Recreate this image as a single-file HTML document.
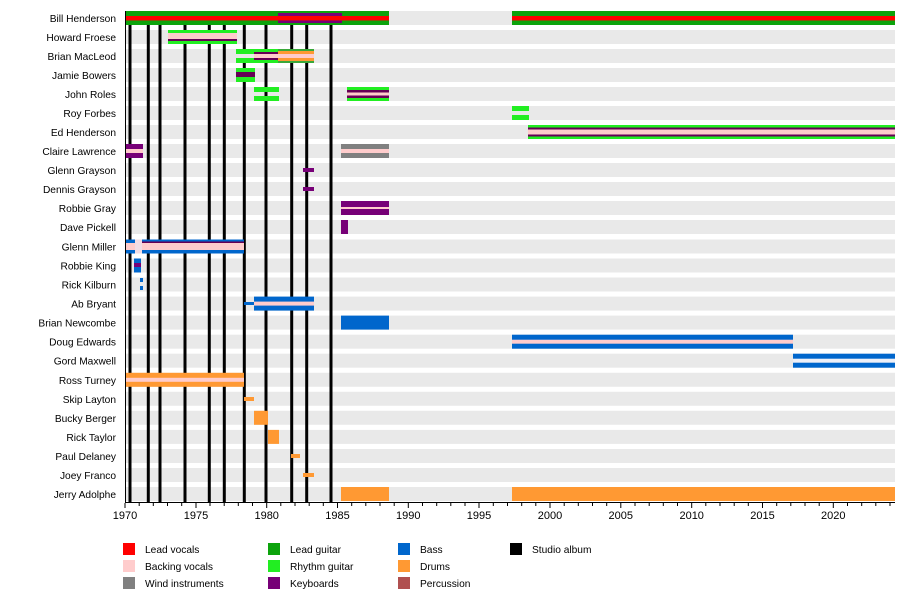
<!DOCTYPE html>
<html><head><meta charset="utf-8"><style>body{margin:0;background:#fff}svg{display:block}text{font-family:"Liberation Sans",Arial,sans-serif;font-size:11px;fill:#000}.lb text{font-size:10.2px}</style></head><body>
<svg width="900" height="600" xmlns="http://www.w3.org/2000/svg">
<g fill="#e9e9e9">
<rect x="125" y="11" width="770" height="14"/><rect x="125" y="30" width="770" height="14"/><rect x="125" y="49" width="770" height="14"/><rect x="125" y="68" width="770" height="14"/><rect x="125" y="87" width="770" height="14"/><rect x="125" y="106" width="770" height="14"/><rect x="125" y="125" width="770" height="14"/><rect x="125" y="144" width="770" height="14"/><rect x="125" y="163" width="770" height="14"/><rect x="125" y="182" width="770" height="14"/><rect x="125" y="201" width="770" height="14"/><rect x="125" y="220" width="770" height="14"/><rect x="125" y="239.5" width="770" height="14"/><rect x="125" y="258.5" width="770" height="14"/><rect x="125" y="277.5" width="770" height="14"/><rect x="125" y="296.6" width="770" height="14"/><rect x="125" y="315.6" width="770" height="14"/><rect x="125" y="334.7" width="770" height="14"/><rect x="125" y="353.7" width="770" height="14"/><rect x="125" y="372.8" width="770" height="14"/><rect x="125" y="391.8" width="770" height="14"/><rect x="125" y="410.8" width="770" height="14"/><rect x="125" y="429.9" width="770" height="14"/><rect x="125" y="449" width="770" height="14"/><rect x="125" y="468" width="770" height="14"/><rect x="125" y="487" width="770" height="14"/>
</g>
<g stroke="#000" stroke-width="3">
<line x1="130" y1="11" x2="130" y2="502"/><line x1="148.3" y1="11" x2="148.3" y2="502"/><line x1="160" y1="11" x2="160" y2="502"/><line x1="185" y1="11" x2="185" y2="502"/><line x1="209.3" y1="11" x2="209.3" y2="502"/><line x1="224.3" y1="11" x2="224.3" y2="502"/><line x1="244.3" y1="11" x2="244.3" y2="502"/><line x1="266" y1="11" x2="266" y2="502"/><line x1="291.7" y1="11" x2="291.7" y2="502"/><line x1="306.7" y1="11" x2="306.7" y2="502"/><line x1="331" y1="11" x2="331" y2="502"/>
</g>
<g>
<rect x="125" y="11" width="264" height="14" fill="#0ca30c"/><rect x="125" y="16" width="264" height="4.5" fill="#f00"/>
<rect x="278" y="13" width="64" height="10" fill="#770077"/><rect x="278" y="16" width="64" height="4.5" fill="#f00"/>
<rect x="512" y="11" width="383" height="14" fill="#0ca30c"/><rect x="512" y="16" width="383" height="4.5" fill="#f00"/>
<rect x="168" y="30" width="69" height="14" fill="#22ee22"/><rect x="168" y="33" width="69" height="8" fill="#ffcccc"/><rect x="168" y="39" width="69" height="2" fill="#660055"/>
<rect x="236" y="49" width="78" height="14" fill="#22ee22"/><rect x="236" y="54" width="18" height="4" fill="#e9e9e9"/>
<rect x="254" y="52" width="24" height="8" fill="#ffcccc"/><rect x="254" y="52" width="24" height="2" fill="#660055"/><rect x="254" y="58" width="24" height="2" fill="#660055"/>
<rect x="278" y="49" width="36" height="14" fill="#3aa83a"/><rect x="278" y="51" width="36" height="10" fill="#ff9933"/><rect x="278" y="54" width="36" height="4" fill="#ffcccc"/>
<rect x="236" y="68" width="19" height="14" fill="#22ee22"/><rect x="236" y="72" width="19" height="5" fill="#660055"/>
<rect x="254" y="87" width="25" height="5" fill="#22ee22"/><rect x="254" y="96" width="25" height="5" fill="#22ee22"/>
<rect x="347" y="87" width="42" height="14" fill="#22ee22"/><rect x="347" y="90" width="42" height="8" fill="#660055"/><rect x="347" y="92.5" width="42" height="3" fill="#ffcccc"/>
<rect x="512" y="106" width="17" height="5" fill="#22ee22"/><rect x="512" y="115" width="17" height="5" fill="#22ee22"/>
<rect x="528" y="125" width="367" height="14" fill="#22ee22"/><rect x="528" y="127.5" width="367" height="9" fill="#660055"/><rect x="528" y="129.5" width="367" height="5" fill="#ffcccc"/>
<rect x="125" y="144" width="18" height="14" fill="#770077"/><rect x="125" y="149" width="18" height="4" fill="#ffcccc"/>
<rect x="341" y="144" width="48" height="14" fill="#808080"/><rect x="341" y="149" width="48" height="4" fill="#ffcccc"/>
<rect x="303" y="168" width="11" height="4" fill="#770077"/><rect x="303" y="187" width="11" height="4" fill="#770077"/>
<rect x="341" y="201" width="48" height="14" fill="#770077"/><rect x="341" y="207" width="48" height="2" fill="#ffcccc"/>
<rect x="341" y="220" width="7" height="14" fill="#770077"/>
<rect x="125" y="239.5" width="119" height="14" fill="#0066cc"/><rect x="125" y="243" width="119" height="7" fill="#ffcccc"/><rect x="142" y="241.5" width="102" height="1.5" fill="#660055"/>
<rect x="135" y="239.5" width="7" height="14" fill="#f2dde5"/>
<rect x="134" y="258.5" width="7" height="14" fill="#0066cc"/><rect x="134" y="263" width="7" height="4" fill="#770077"/>
<rect x="140" y="278" width="3" height="4" fill="#0066cc"/><rect x="140" y="286" width="3" height="4" fill="#0066cc"/>
<rect x="244" y="302" width="10" height="3" fill="#0066cc"/><rect x="254" y="296.6" width="60" height="14" fill="#0066cc"/><rect x="254" y="301.6" width="60" height="4" fill="#ffcccc"/>
<rect x="341" y="315.6" width="48" height="14" fill="#0066cc"/>
<rect x="512" y="334.7" width="281" height="14" fill="#0066cc"/><rect x="512" y="339.7" width="281" height="4" fill="#ffcccc"/>
<rect x="793" y="353.7" width="102" height="14" fill="#0066cc"/><rect x="793" y="358.7" width="102" height="4" fill="#eef0f8"/>
<rect x="125" y="372.8" width="119" height="14" fill="#ff9933"/><rect x="125" y="377.8" width="119" height="4" fill="#ffcccc"/>
<rect x="244" y="397" width="10" height="4" fill="#ff9933"/>
<rect x="254" y="410.8" width="14" height="14" fill="#ff9933"/>
<rect x="268" y="429.9" width="11" height="14" fill="#ff9933"/>
<rect x="291" y="454" width="9" height="4" fill="#ff9933"/>
<rect x="303" y="473" width="11" height="4" fill="#ff9933"/>
<rect x="341" y="487" width="48" height="14" fill="#ff9933"/><rect x="512" y="487" width="383" height="14" fill="#ff9933"/>
</g>
<line x1="125" y1="502.5" x2="895" y2="502.5" stroke="#000"/>
<line x1="125.5" y1="11" x2="125.5" y2="503" stroke="#000"/>
<g stroke="#000">
<path d="M125 503v5M196 503v5M266.7 503v5M337.5 503v5M408.3 503v5M479 503v5M550 503v5M620.8 503v5M691.7 503v5M762.5 503v5M833.3 503v5"/>
<path d="M139.2 503v3M153.3 503v3M167.5 503v3M181.7 503v3M210 503v3M224.2 503v3M238.3 503v3M252.5 503v3M280.8 503v3M295 503v3M309.2 503v3M323.3 503v3M351.7 503v3M365.8 503v3M380 503v3M394.2 503v3M422.5 503v3M436.7 503v3M450.8 503v3M465 503v3M493.3 503v3M507.5 503v3M521.7 503v3M535.8 503v3M564.2 503v3M578.3 503v3M592.5 503v3M606.7 503v3M635 503v3M649.2 503v3M663.3 503v3M677.5 503v3M705.8 503v3M720 503v3M734.2 503v3M748.3 503v3M776.7 503v3M790.8 503v3M805 503v3M819.2 503v3M847.5 503v3M861.7 503v3M875.8 503v3M890 503v3"/>
</g>
<g text-anchor="middle">
<text x="125" y="519">1970</text><text x="196" y="519">1975</text><text x="266.7" y="519">1980</text><text x="337.5" y="519">1985</text><text x="408.3" y="519">1990</text><text x="479" y="519">1995</text><text x="550" y="519">2000</text><text x="620.8" y="519">2005</text><text x="691.7" y="519">2010</text><text x="762.5" y="519">2015</text><text x="833.3" y="519">2020</text>
</g>
<g text-anchor="end" class="lb">
<text x="116" y="22">Bill Henderson</text><text x="116" y="41">Howard Froese</text><text x="116" y="60">Brian MacLeod</text><text x="116" y="79">Jamie Bowers</text><text x="116" y="98">John Roles</text><text x="116" y="117">Roy Forbes</text><text x="116" y="136">Ed Henderson</text><text x="116" y="155">Claire Lawrence</text><text x="116" y="174">Glenn Grayson</text><text x="116" y="193">Dennis Grayson</text><text x="116" y="212">Robbie Gray</text><text x="116" y="231">Dave Pickell</text><text x="116" y="250.5">Glenn Miller</text><text x="116" y="269.5">Robbie King</text><text x="116" y="288.5">Rick Kilburn</text><text x="116" y="307.6">Ab Bryant</text><text x="116" y="326.6">Brian Newcombe</text><text x="116" y="345.7">Doug Edwards</text><text x="116" y="364.7">Gord Maxwell</text><text x="116" y="383.8">Ross Turney</text><text x="116" y="402.8">Skip Layton</text><text x="116" y="421.8">Bucky Berger</text><text x="116" y="440.9">Rick Taylor</text><text x="116" y="460">Paul Delaney</text><text x="116" y="479">Joey Franco</text><text x="116" y="498">Jerry Adolphe</text>
</g>
<g class="lb">
<rect x="123" y="543" width="12" height="12" fill="#f00"/><text x="145" y="553">Lead vocals</text>
<rect x="123" y="560" width="12" height="12" fill="#ffcccc"/><text x="145" y="570">Backing vocals</text>
<rect x="123" y="577" width="12" height="12" fill="#808080"/><text x="145" y="587">Wind instruments</text>
<rect x="268" y="543" width="12" height="12" fill="#0ca30c"/><text x="290" y="553">Lead guitar</text>
<rect x="268" y="560" width="12" height="12" fill="#22ee22"/><text x="290" y="570">Rhythm guitar</text>
<rect x="268" y="577" width="12" height="12" fill="#770077"/><text x="290" y="587">Keyboards</text>
<rect x="398" y="543" width="12" height="12" fill="#0066cc"/><text x="420" y="553">Bass</text>
<rect x="398" y="560" width="12" height="12" fill="#ff9933"/><text x="420" y="570">Drums</text>
<rect x="398" y="577" width="12" height="12" fill="#b05050"/><text x="420" y="587">Percussion</text>
<rect x="510" y="543" width="12" height="12" fill="#000"/><text x="532" y="553">Studio album</text>
</g>
</svg>
</body></html>
